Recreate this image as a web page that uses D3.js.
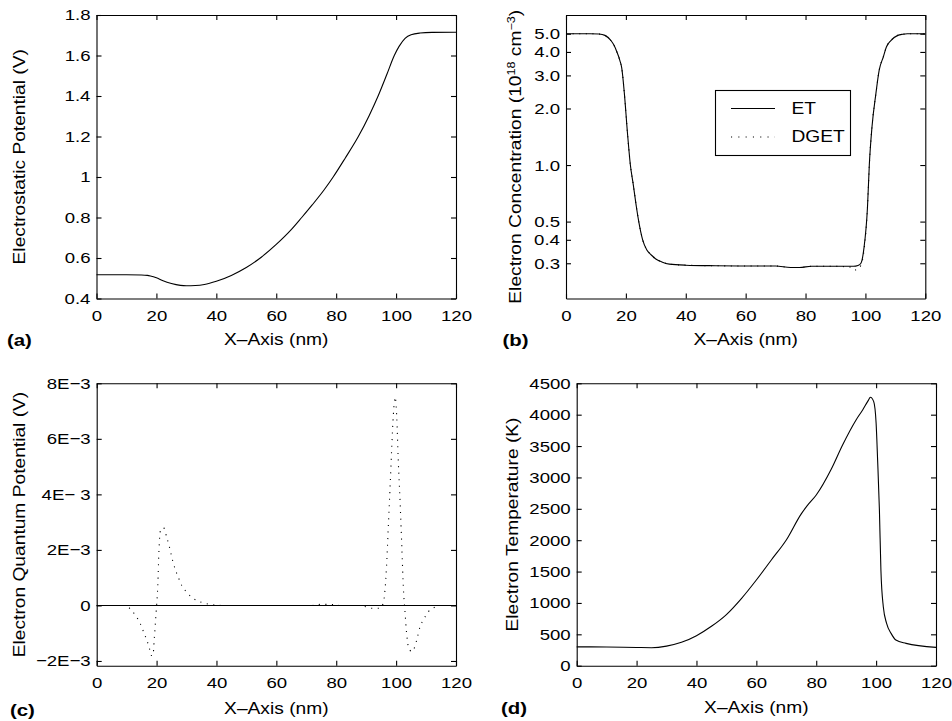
<!DOCTYPE html>
<html>
<head>
<meta charset="utf-8">
<script src="https://cdn.jsdelivr.net/npm/d3@7"></script>
<style>
    body { margin: 0; background: #fff; }
    text { font-family: "Liberation Sans", Arial, Helvetica, sans-serif; fill: #000; }
    .sx { transform-box: fill-box; transform: scaleX(1.2); }
    .sx-end { transform-origin: right center; }
    .sx-mid { transform-origin: center center; }
    .sx-start { transform-origin: left center; }
</style>
</head>
<body>
<div id="chart"></div>
<script>
// x axis is the same for all four panels
let xTicks = [0, 20, 40, 60, 80, 100, 120];

// (a) electrostatic potential
let potX  = [0, 5, 10, 15, 17, 18, 20, 22, 25, 28, 30, 33, 36, 40, 45, 50, 55, 60, 65, 68.5, 72, 76, 79, 83, 87.4, 91, 94, 97, 99.4, 101, 103, 105, 108, 112, 120];
let potET = [0.517, 0.517, 0.517, 0.516, 0.514, 0.511, 0.502, 0.489, 0.474, 0.465, 0.463, 0.464, 0.469, 0.485, 0.514, 0.553, 0.604, 0.667, 0.74, 0.8, 0.862, 0.937, 1.0, 1.093, 1.2, 1.303, 1.4, 1.51, 1.6, 1.645, 1.685, 1.703, 1.711, 1.714, 1.715];
let potTicks = [0.4, 0.6, 0.8, 1, 1.2, 1.4, 1.6, 1.8];

// (b) electron concentration, 1e18 cm^-3
let concX  = [0, 8, 11, 13, 15, 16, 17, 18, 18.6, 19.5, 20.5, 21.5, 22.5, 23.5, 24.3, 25.6, 27, 28.5, 30, 32, 34.5, 40, 50, 60, 70, 75, 78, 82, 90, 96, 97.5, 98.5, 99.5, 100.7, 101.3, 102.2, 103.5, 104.6, 106, 107, 108.5, 110.8, 112.5, 114, 120];
let concET = [5.0, 5.0, 4.98, 4.9, 4.6, 4.35, 4.0, 3.6, 3.3, 2.4, 1.5, 1.0, 0.78, 0.6, 0.5, 0.4, 0.353, 0.332, 0.316, 0.305, 0.297, 0.293, 0.291, 0.29, 0.29, 0.285, 0.285, 0.289, 0.289, 0.289, 0.292, 0.3, 0.36, 0.6, 1.0, 1.6, 2.4, 3.2, 3.77, 4.25, 4.6, 4.9, 4.97, 5.0, 5.0];
let concDGETX = [0, 8, 11, 13, 15, 16, 17, 18, 18.6, 19.5, 20.5, 21.5, 22.5, 23.5, 24.3, 25.6, 27, 28.5, 30, 32, 34.5, 40, 50, 60, 70, 75, 78, 82, 90, 95, 96.3, 97.5, 98.6, 99.6, 100.7, 101.3, 102.2, 103.5, 104.6, 106, 107, 108.5, 110.8, 112.5, 114, 120];
let concDGET  = [5.0, 5.0, 4.98, 4.9, 4.6, 4.35, 4.0, 3.6, 3.3, 2.4, 1.5, 1.0, 0.78, 0.6, 0.5, 0.4, 0.353, 0.332, 0.316, 0.305, 0.297, 0.293, 0.291, 0.29, 0.29, 0.285, 0.285, 0.289, 0.289, 0.286, 0.276, 0.28, 0.295, 0.36, 0.6, 1.0, 1.6, 2.4, 3.2, 3.77, 4.25, 4.6, 4.9, 4.97, 5.0, 5.0];
let concTicks = [0.3, 0.4, 0.5, 1.0, 2.0, 3.0, 4.0, 5.0];

// (c) electron quantum potential, V
let quantETX = [0, 120];
let quantET  = [0, 0];
let quantX = [0, 9, 11, 13, 14.5, 15.6, 16.7, 17.6, 18.2, 18.8, 19.2, 19.6, 20, 20.4, 20.8, 21.3, 22.3, 23.4, 24.3, 25.4, 26.4, 27.3, 28.4, 30, 32.3, 35, 37.8, 42, 60, 72, 75, 78, 81, 88, 91.8, 94.6, 95.7, 96.8, 97.4, 98, 98.5, 99.1, 99.7, 100.2, 100.7, 101.3, 101.9, 102.4, 103, 103.5, 104.1, 105.2, 105.8, 106.9, 108, 109.1, 110.8, 113, 115, 120];
let quantDGET = [0, 0, -0.1e-3, -0.37e-3, -0.64e-3, -0.94e-3, -1.24e-3, -1.54e-3, -1.8e-3, -1.8e-3, -1.24e-3, -0.64e-3, 0, 0.7e-3, 2.0e-3, 2.7e-3, 2.8e-3, 2.45e-3, 2.1e-3, 1.6e-3, 1.25e-3, 1.0e-3, 0.72e-3, 0.48e-3, 0.25e-3, 0.11e-3, 0.04e-3, 0, 0, 0, 0.04e-3, 0.04e-3, 0, 0, -0.1e-3, -0.1e-3, 0.08e-3, 1.4e-3, 2.85e-3, 4.3e-3, 5.6e-3, 6.9e-3, 7.5e-3, 6.8e-3, 5.26e-3, 3.8e-3, 2.13e-3, 0.69e-3, -0.28e-3, -1.0e-3, -1.48e-3, -1.66e-3, -1.6e-3, -1.24e-3, -0.76e-3, -0.52e-3, -0.22e-3, -0.06e-3, 0, 0];
let quantTicks = [-2e-3, 0, 2e-3, 4e-3, 6e-3, 8e-3];
let quantLabels = ["\u22122E\u22123", "0", "2E\u22123", "4E\u2212 3", "6E\u22123", "8E\u22123"];

// (d) electron temperature, K
let tempX  = [0, 10, 20, 25, 30, 35, 40, 45, 50, 55, 60, 65, 70, 75, 77, 80, 85, 88.8, 93.3, 95.5, 97.3, 98.1, 99.2, 100, 100.5, 101.1, 101.6, 102.4, 103.5, 105, 106.6, 110, 120];
let tempET = [300, 298, 290, 287, 312, 372, 478, 628, 815, 1070, 1366, 1685, 2003, 2420, 2550, 2720, 3130, 3517, 3916, 4075, 4220, 4277, 4208, 3863, 3278, 2481, 1525, 940, 675, 515, 409, 356, 292];
let tempTicks = [0, 500, 1000, 1500, 2000, 2500, 3000, 3500, 4000, 4500];

let svg = d3.select("#chart").append("svg")
    .attr("width", 952)
    .attr("height", 721);

function makePanel(box, yScale, yTicks, yFormat) {
    let x = d3.scaleLinear().domain([0, 120]).range([box.left, box.right]);
    let y = yScale.range([box.bottom, box.top]);
    let g = svg.append("g");

    let bottom = g.append("g")
        .attr("transform", "translate(0," + box.bottom + ")")
        .call(d3.axisBottom(x).tickValues(xTicks).tickSize(-5).tickSizeOuter(0).tickPadding(11.5));
    g.append("g")
        .attr("transform", "translate(0," + box.top + ")")
        .call(d3.axisTop(x).tickValues(xTicks).tickSize(-5).tickSizeOuter(0).tickFormat(""));
    let left = g.append("g")
        .attr("transform", "translate(" + box.left + ",0)")
        .call(d3.axisLeft(y).tickValues(yTicks).tickSize(-5).tickSizeOuter(0).tickPadding(6).tickFormat(yFormat));
    g.append("g")
        .attr("transform", "translate(" + box.right + ",0)")
        .call(d3.axisRight(y).tickValues(yTicks).tickSize(-5).tickSizeOuter(0).tickFormat(""));

    g.selectAll(".domain, .tick line").attr("stroke", "#000").attr("stroke-width", 1.1);
    g.selectAll(".tick text").attr("font-size", 15.5).attr("font-family", null);
    bottom.selectAll(".tick text").attr("class", "sx sx-mid");
    left.selectAll(".tick text").attr("class", "sx sx-end");

    // x axis title and panel letter
    g.append("text")
        .attr("class", "sx sx-mid")
        .attr("x", (box.left + box.right) / 2)
        .attr("y", box.bottom + box.titleDy)
        .attr("text-anchor", "middle")
        .attr("font-size", 16)
        .text("X\u2013Axis (nm)");
    g.append("text")
        .attr("class", "sx sx-start")
        .attr("x", box.letterX)
        .attr("y", box.letterY)
        .attr("font-size", 17)
        .attr("font-weight", "bold")
        .text(box.letter);

    let yTitle = g.append("g")
        .attr("transform", "translate(" + box.yTitleX + "," + (box.top + box.bottom) / 2 + ") rotate(-90)")
        .append("text")
        .attr("class", "sx sx-mid")
        .attr("text-anchor", "middle")
        .attr("font-size", 16);

    return {g: g, x: x, y: y, yTitle: yTitle};
}

function drawLine(p, xs, ys, dotted) {
    let pts = xs.map((d, i) => [d, ys[i]]);
    let line = d3.line()
        .x((d) => p.x(d[0]))
        .y((d) => p.y(d[1]))
        .curve(d3.curveMonotoneX);
    p.g.append("path")
        .datum(pts)
        .attr("fill", "none")
        .attr("stroke", "#000")
        .attr("stroke-width", dotted ? 1.1 : 1.1)
        .attr("stroke-dasharray", dotted ? "1.1,5.5" : null)
        .attr("d", line);
}

// (a)
let pa = makePanel({left: 96.5, right: 456, top: 15, bottom: 298.5, titleDy: 46.5,
        letter: "(a)", letterX: 7, letterY: 346, yTitleX: 24.5},
    d3.scaleLinear().domain([0.4, 1.8]), potTicks, d3.format("~g"));
pa.yTitle.text("Electrostatic Potential (V)");
drawLine(pa, potX, potET, false);

// (b)
let pb = makePanel({left: 566, right: 925.3, top: 15, bottom: 298.5, titleDy: 46.5,
        letter: "(b)", letterX: 502.5, letterY: 346, yTitleX: 521},
    d3.scaleLog().domain([0.1948, 6.29]), concTicks, d3.format(".1f"));
pb.yTitle.append("tspan").text("Electron Concentration (10");
pb.yTitle.append("tspan").attr("font-size", 10.5).attr("dy", -6).text("18");
pb.yTitle.append("tspan").attr("dy", 6).text(" cm");
pb.yTitle.append("tspan").attr("font-size", 10.5).attr("dy", -6).text("\u22123");
pb.yTitle.append("tspan").attr("dy", 6).text(")");
drawLine(pb, concDGETX, concDGET, true);
drawLine(pb, concX, concET, false);

// legend for (b)
let leg = pb.g.append("g");
leg.append("rect")
    .attr("x", 715.5).attr("y", 90.5).attr("width", 135).attr("height", 65)
    .attr("fill", "#fff").attr("stroke", "#000").attr("stroke-width", 1.1);
leg.append("line")
    .attr("x1", 731).attr("x2", 775).attr("y1", 108.5).attr("y2", 108.5)
    .attr("stroke", "#000").attr("stroke-width", 1.1);
leg.append("line")
    .attr("x1", 731).attr("x2", 775).attr("y1", 137).attr("y2", 137)
    .attr("stroke", "#000").attr("stroke-width", 1.1).attr("stroke-dasharray", "1.1,6.2");
leg.append("text").attr("class", "sx sx-start").attr("x", 791.5).attr("y", 114)
    .attr("font-size", 16).text("ET");
leg.append("text").attr("class", "sx sx-start").attr("x", 791.5).attr("y", 142.5)
    .attr("font-size", 16).text("DGET");

// (c)
let pc = makePanel({left: 96.7, right: 456, top: 383.3, bottom: 665.7, titleDy: 48.5,
        letter: "(c)", letterX: 10, letterY: 716, yTitleX: 24.5},
    d3.scaleLinear().domain([-2.17e-3, 8e-3]), quantTicks, (d, i) => quantLabels[i]);
pc.yTitle.text("Electron Quantum Potential (V)");
drawLine(pc, quantX, quantDGET, true);
drawLine(pc, quantETX, quantET, false);

// (d)
let pd = makePanel({left: 576.7, right: 936, top: 383.3, bottom: 665.7, titleDy: 47.5,
        letter: "(d)", letterX: 501, letterY: 714, yTitleX: 518},
    d3.scaleLinear().domain([0, 4500]), tempTicks, d3.format("d"));
pd.yTitle.text("Electron Temperature (K)");
drawLine(pd, tempX, tempET, false);
</script>
</body>
</html>
